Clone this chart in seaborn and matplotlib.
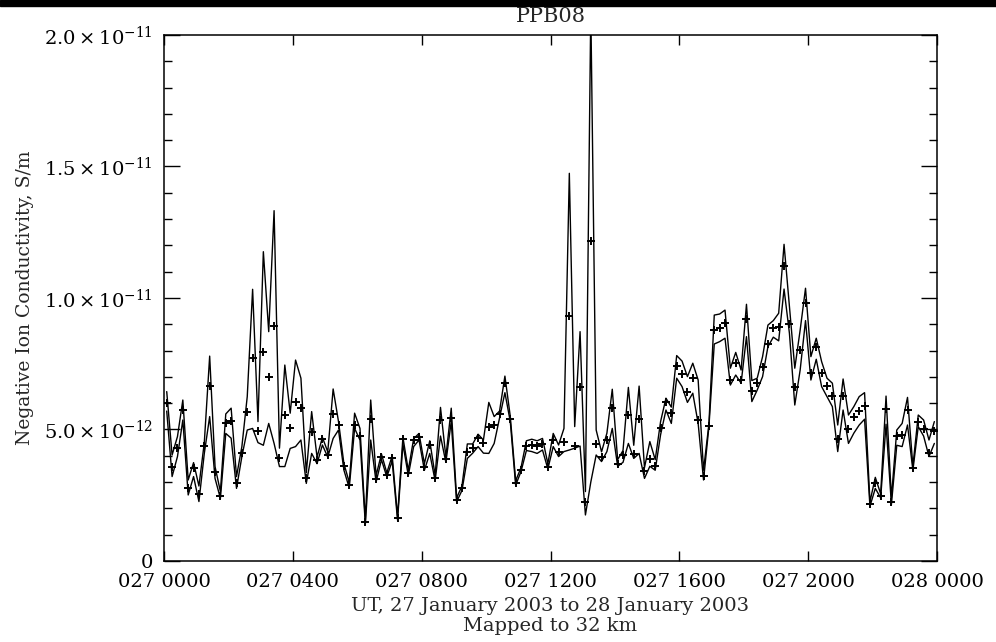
import matplotlib
matplotlib.use("Agg")
import matplotlib.pyplot as plt
import matplotlib.dates as mdates
from matplotlib.patches import Rectangle
from matplotlib.ticker import MultipleLocator, NullLocator
import pandas as pd
import seaborn as sns

# 10 minute samples, values in units of 1e-12 S/m
start_time = "2003-01-27 00:05"
n_samples = 144

conductivity = [
    6.00, 3.59, 4.31, 5.74, 2.79, 3.55, 2.55, 4.37, 6.67, 3.40, 2.47, 5.23,
    5.32, 2.95, 4.12, 5.68, 7.73, 4.95, 7.93, 7.01, 8.94, 3.90, 5.55, 5.04,
    6.06, 5.81, 3.14, 4.92, 3.84, 4.63, 4.03, 5.59, 5.17, 3.61, 2.89, 5.17,
    4.75, 1.47, 5.40, 3.11, 3.97, 3.27, 3.90, 1.62, 4.63, 3.33, 4.60, 4.73,
    3.56, 4.41, 3.14, 5.36, 3.87, 5.45, 2.32, 2.76, 4.16, 4.31, 4.66, 4.47,
    5.08, 5.17, 5.59, 6.76, 5.39, 2.95, 3.46, 4.37, 4.41, 4.38, 4.45, 3.59,
    4.60, 4.13, 4.51, 9.32, 4.37, 6.60, 2.26, 12.18, 4.44, 3.95, 4.60, 5.81,
    3.69, 4.03, 5.55, 4.07, 5.40, 3.43, 3.88, 3.62, 5.04, 6.03, 5.64, 7.41,
    7.10, 6.41, 6.97, 5.36, 3.24, 5.15, 8.78, 8.85, 9.04, 6.88, 7.52, 6.88,
    9.19, 6.45, 6.78, 7.36, 8.24, 8.87, 8.91, 11.22, 9.00, 6.63, 8.02, 9.80,
    7.14, 8.15, 7.14, 6.65, 6.27, 4.63, 6.27, 5.01, 5.49, 5.72, 5.89, 2.15,
    2.98, 2.47, 5.77, 2.26, 4.75, 4.79, 5.74, 3.52, 5.30, 5.01, 4.12, 4.95,
]

upper = [
    6.44, 4.03, 4.73, 6.12, 3.08, 3.74, 2.85, 4.50, 7.79, 3.59, 2.64, 5.59,
    5.81, 3.21, 4.35, 6.25, 10.33, 5.30, 11.76, 8.72, 13.32, 4.29, 7.45, 5.62,
    7.64, 6.95, 3.35, 5.68, 3.95, 4.70, 4.15, 6.54, 5.30, 3.71, 2.99, 5.62,
    5.04, 1.55, 6.12, 3.25, 4.07, 3.35, 4.00, 1.70, 4.70, 3.45, 4.65, 4.85,
    3.70, 4.57, 3.25, 5.84, 3.95, 5.81, 2.40, 2.85, 4.45, 4.45, 4.82, 4.60,
    6.03, 5.49, 5.70, 7.03, 5.50, 3.05, 3.55, 4.57, 4.63, 4.57, 4.66, 3.70,
    4.85, 4.41, 5.04, 14.74, 5.11, 8.72, 2.64, 21.00, 4.98, 4.15, 4.86, 6.53,
    3.85, 4.20, 6.60, 4.40, 6.65, 3.55, 4.54, 3.85, 5.30, 6.19, 5.85, 7.81,
    7.60, 7.01, 7.52, 6.88, 3.45, 5.20, 9.35, 9.39, 9.54, 7.33, 7.93, 7.26,
    9.76, 6.86, 6.95, 7.77, 8.97, 9.14, 9.42, 12.04, 9.67, 7.33, 8.78, 10.37,
    7.77, 8.47, 7.58, 6.95, 6.76, 5.17, 6.92, 5.55, 5.87, 6.25, 6.40, 2.25,
    3.18, 2.55, 6.27, 2.40, 4.98, 5.23, 6.22, 3.60, 5.55, 5.36, 4.60, 5.30,
]

lower = [
    5.70, 3.21, 3.97, 5.36, 2.51, 3.21, 2.26, 4.09, 5.49, 3.14, 2.38, 4.85,
    4.67, 2.76, 3.97, 4.98, 5.04, 4.50, 4.40, 5.23, 4.47, 3.59, 3.59, 4.28,
    4.35, 4.60, 2.95, 4.09, 3.70, 4.41, 3.95, 4.66, 4.98, 3.46, 2.78, 5.04,
    4.60, 1.40, 4.60, 3.00, 3.85, 3.20, 3.80, 1.55, 4.45, 3.25, 4.35, 4.60,
    3.45, 4.09, 3.05, 4.75, 3.75, 5.30, 2.25, 2.68, 3.90, 4.10, 4.35, 4.10,
    4.09, 4.47, 5.43, 6.40, 5.30, 2.88, 3.40, 4.20, 4.16, 4.09, 4.22, 3.50,
    4.35, 3.97, 4.16, 4.22, 4.29, 4.37, 1.75, 3.00, 4.03, 3.78, 4.16, 5.04,
    3.60, 3.75, 4.47, 3.90, 4.09, 3.14, 3.60, 3.45, 4.80, 5.74, 5.23, 6.95,
    6.63, 6.03, 6.38, 5.23, 3.08, 5.10, 8.25, 8.34, 8.47, 6.69, 7.07, 6.76,
    8.53, 6.06, 6.50, 7.01, 8.15, 8.51, 8.37, 10.34, 8.66, 5.93, 7.26, 9.14,
    6.88, 7.67, 6.63, 6.25, 5.87, 4.16, 5.74, 4.47, 4.86, 5.17, 5.39, 2.08,
    2.76, 2.40, 5.20, 2.15, 4.40, 4.35, 5.17, 3.45, 5.11, 4.75, 3.97, 4.47,
]

ytick_values = [0, 5e-12, 1.0e-11, 1.5e-11, 2.0e-11]
ytick_labels = ["0", r"$5.0\times10^{-12}$", r"$1.0\times10^{-11}$",
                r"$1.5\times10^{-11}$", r"$2.0\times10^{-11}$"]


def main():
    sns.set_style("ticks")
    plt.rcParams["font.family"] = ["DejaVu Serif"]
    plt.rcParams["mathtext.fontset"] = "dejavuserif"

    scale = 1e-12
    df = pd.DataFrame({
        "time": pd.date_range(start_time, periods=n_samples, freq="10min"),
        "value": [v * scale for v in conductivity],
        "upper": [v * scale for v in upper],
        "lower": [v * scale for v in lower],
    })

    fig = plt.figure(figsize=(9.96, 6.42), dpi=100)
    ax = fig.add_axes([0.1647, 0.1262, 0.7761, 0.8193])

    # error envelope
    for col in ["upper", "lower"]:
        sns.lineplot(data=df, x="time", y=col, color="black", lw=1.0,
                     estimator=None, ax=ax)
    # measured points
    sns.scatterplot(data=df, x="time", y="value", marker="+", s=36,
                    color="black", linewidth=1.4, ax=ax, zorder=3)

    ax.set_xlim(pd.Timestamp("2003-01-27 00:00"), pd.Timestamp("2003-01-28 00:00"))
    ax.set_ylim(0, 2.0e-11)

    ax.xaxis.set_major_locator(mdates.HourLocator(byhour=range(0, 24, 4)))
    ax.xaxis.set_major_formatter(mdates.DateFormatter("%j %H%M"))
    ax.xaxis.set_minor_locator(NullLocator())
    ax.set_yticks(ytick_values, ytick_labels)
    ax.yaxis.set_minor_locator(MultipleLocator(1e-12))

    ax.tick_params(which="both", direction="in", top=True, right=True,
                   color="black", width=1.0, labelsize=14, labelcolor="black")
    ax.tick_params(axis="x", which="major", length=7, pad=9)
    ax.tick_params(axis="y", which="major", length=11.5, pad=8)
    ax.tick_params(axis="y", which="minor", length=6)
    for sp in ax.spines.values():
        sp.set_visible(True)
        sp.set_color("black")
        sp.set_linewidth(1.1)

    ax.set_xlabel("UT, 27 January 2003 to 28 January 2003\nMapped to 32 km",
                  fontsize=14, linespacing=1.15, labelpad=4)
    ax.set_ylabel("Negative Ion Conductivity, S/m", fontsize=13.5, labelpad=7)
    fig.text(0.5527, 1 - 17 / 642, "PPB08", ha="center", va="center", fontsize=15)

    # dark strip along the top edge of the screenshot
    fig.add_artist(Rectangle((0, 1 - 6 / 642), 1, 6 / 642,
                             transform=fig.transFigure, color="black"))

    fig.savefig("out.png", dpi=100, facecolor="white")


if __name__ == "__main__":
    main()
